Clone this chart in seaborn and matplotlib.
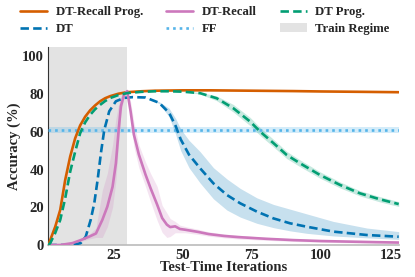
import numpy as np
import pandas as pd
import matplotlib
matplotlib.use("Agg")
import matplotlib.pyplot as plt
import seaborn as sns
from matplotlib.lines import Line2D
from matplotlib.patches import Patch

# ---------------- data ----------------
drp_x = [1.5, 2.2, 4, 5.8, 7.6, 9.4, 11.2, 13, 14.8, 16.6, 18.4, 20.2, 22, 23.8, 26.8, 29.8, 35, 40, 50, 60, 75, 90, 100, 115, 128]
drp_y = [0, 2.7, 9.7, 18.6, 34.5, 46.9, 56.6, 63.4, 68, 71.4, 74, 76.2, 77.8, 78.9, 80.2, 81, 81.5, 81.8, 82, 82, 81.8, 81.6, 81.4, 81.2, 81]

dtp_x = [1.5, 2.2, 4, 5.8, 7.6, 9.4, 11.2, 13, 14.8, 16.6, 18.4, 20.2, 22, 23.8, 26.8, 29.8, 35, 40, 45, 50, 56.3, 62.3, 68.3, 74.4, 78, 82.8, 87.6, 92.4, 99.6, 106.9, 114, 121.3, 128]
dtp_y = [0, 1, 6.4, 13.3, 24.8, 38.9, 49.5, 59.3, 65, 69, 72, 74.3, 76.3, 77.9, 79.5, 80.5, 81.2, 81.5, 81.5, 81.3, 80.5, 77.8, 72.5, 65.4, 60.1, 54, 47.7, 43.3, 37.1, 31.8, 27.4, 24.2, 21.7]
dtp_lo = [0, 1, 6.4, 13.3, 24.8, 38.9, 49.5, 59.3, 65, 69, 72, 74.3, 76.3, 77.9, 79.5, 80.5, 81.2, 81.5, 81.5, 81.3, 80, 76.5, 70.5, 63.2, 58, 52, 45.8, 41.5, 35.4, 30.2, 26, 22.8, 20.4]
dtp_hi = [0, 1, 6.4, 13.3, 24.8, 38.9, 49.5, 59.3, 65, 69, 72, 74.3, 76.3, 77.9, 79.5, 80.5, 81.2, 81.5, 81.5, 81.3, 81, 79, 74.5, 67.6, 62.2, 56, 49.6, 45.1, 38.8, 33.4, 28.8, 25.6, 23]

dt_x = [1.5, 10, 13.2, 15, 16.8, 18.1, 19.3, 20.5, 21.7, 23.5, 25.9, 28.9, 32, 36.6, 41.5, 45.1, 47.5, 49.3, 52.3, 56.3, 61.1, 66, 70.8, 76.8, 82.8, 88.8, 94.8, 104.4, 116.5, 128]
dt_y = [0, 0, 1, 4.4, 13.3, 22.2, 34.5, 48.8, 61, 70.9, 76.2, 78, 78.4, 78.2, 75.4, 70.1, 63, 56, 47.9, 40.7, 32.7, 26.5, 22.1, 17.7, 14.1, 11.5, 9.7, 7.1, 5.3, 4.4]
dt_lo = [0, 0, 1, 4.4, 13.3, 22.2, 34.5, 48.8, 61, 70.9, 76.2, 78, 78.4, 78.2, 75, 68, 58.5, 50, 41, 32.9, 24.5, 18.5, 14.8, 11.5, 9.2, 7.5, 6.2, 4.8, 3.8, 3]
dt_hi = [0, 0, 1, 4.4, 13.3, 22.2, 34.5, 48.8, 61, 70.9, 76.2, 78, 78.4, 78.2, 76, 72.5, 67, 61.5, 55.5, 49.5, 41, 35, 30, 25, 21.5, 19, 16.5, 12.5, 9, 7.1]

dr_x = [1.5, 5.8, 10.2, 13.2, 16.2, 18.7, 21, 22.8, 24.7, 25.9, 26.8, 27.7, 28.8, 30, 31.2, 32.4, 34.2, 36.6, 38.4, 40.8, 42.6, 44.3, 45.5, 47.3, 49, 50.9, 55.7, 59.4, 65, 70, 80, 90, 100, 110, 120, 128]
dr_y = [0, 0, 1, 2.6, 4.4, 6.1, 13.3, 20.3, 30.9, 43.3, 59.3, 73.5, 79.5, 81.6, 70.9, 58.5, 47.9, 37.3, 30.2, 21.4, 14.3, 10.8, 9.5, 9.9, 8.5, 8.1, 6.9, 5.8, 4.8, 4.2, 3.3, 2.6, 2.1, 1.8, 1.5, 1.3]
dr_lo = [0, 0, 0.6, 1.8, 3.2, 4, 4, 9.7, 20, 34, 52, 70, 78, 81, 66, 52, 41, 31, 23, 13, 6.7, 4, 4.5, 6.5, 6.5, 6.5, 5.6, 4.7, 3.8, 3.2, 2.5, 1.9, 1.5, 1.2, 1, 0.9]
dr_hi = [0, 0, 1.4, 3.4, 5.6, 9, 29, 38, 53, 67, 74, 79, 81, 82.2, 76, 65, 53, 44, 38, 31, 21, 17, 14, 12.5, 10.5, 9.8, 8.3, 7, 5.8, 5.2, 4.1, 3.3, 2.7, 2.4, 2.1, 1.8]

ff_x = [1.5, 128]
ff_y = [61, 61]
ff_lo = [59.3, 59.3]
ff_hi = [62.8, 62.8]

train_regime = (0, 30)

labels = ["DT-Recall Prog.", "DT-Recall", "DT Prog.", "DT", "FF", "Train Regime"]

# ---------------- style ----------------
sns.set_theme(style="white")
plt.rcParams["font.family"] = ["Liberation Serif", "DejaVu Serif"]
plt.rcParams["font.weight"] = "bold"
plt.rcParams["axes.labelweight"] = "bold"

pal = sns.color_palette("colorblind")
c_drp = pal[3]
c_dr = pal[4]
c_dtp = pal[2]
c_dt = pal[0]
c_ff = pal[9]

fig = plt.figure(figsize=(4.15, 2.77), dpi=100)
ax = fig.add_axes([0.1164, 0.1155, 0.8443, 0.715])

ax.axvspan(*train_regime, color="#e3e3e3", zorder=0, lw=0)

def band(x, lo, hi, c, a=0.25):
    ax.fill_between(x, lo, hi, color=c, alpha=a, lw=0, zorder=1)

band(ff_x, ff_lo, ff_hi, c_ff, 0.25)
band(dt_x, dt_lo, dt_hi, c_dt, 0.22)
band(dtp_x, dtp_lo, dtp_hi, c_dtp, 0.22)
band(dr_x, dr_lo, dr_hi, c_dr, 0.2)

lw = 1.9
dash = (0, (3.2, 1.6))
dots = (0, (1, 1.5))
sns.lineplot(x=ff_x, y=ff_y, ax=ax, color=c_ff, lw=lw, linestyle=dots, zorder=3)
sns.lineplot(x=dt_x, y=dt_y, ax=ax, color=c_dt, lw=lw, linestyle=dash, zorder=3)
sns.lineplot(x=dr_x, y=dr_y, ax=ax, color=c_dr, lw=lw, zorder=4)
sns.lineplot(x=drp_x, y=drp_y, ax=ax, color=c_drp, lw=lw, zorder=3)
sns.lineplot(x=dtp_x, y=dtp_y, ax=ax, color=c_dtp, lw=lw, linestyle=dash, zorder=4)

ax.set_xlim(1.5, 128)
ax.set_ylim(0, 105)
ax.set_xticks([25, 50, 75, 100, 125])
ax.set_yticks([0, 20, 40, 60, 80, 100])
ax.tick_params(axis="both", labelsize=10.5, length=2, pad=1)
for t in ax.get_xticklabels() + ax.get_yticklabels():
    t.set_fontweight("bold")
ax.set_xlabel("Test-Time Iterations", fontsize=10.5, fontweight="bold", labelpad=-1)
ax.set_ylabel("Accuracy (%)", fontsize=10.5, fontweight="bold", labelpad=1)

for s in ["top", "right"]:
    ax.spines[s].set_visible(False)
ax.spines["left"].set_color("#333333")
ax.spines["bottom"].set_color("#bbbbbb")
ax.spines["left"].set_linewidth(0.8)
ax.spines["bottom"].set_linewidth(1.2)

handles = [
    Line2D([], [], color=c_drp, lw=lw),
    Line2D([], [], color=c_dt, lw=lw, linestyle=dash),
    Line2D([], [], color=c_dr, lw=lw),
    Line2D([], [], color=c_ff, lw=lw, linestyle=dots),
    Line2D([], [], color=c_dtp, lw=lw, linestyle=dash),
    Patch(facecolor="#e3e3e3", edgecolor="none"),
]
leg_labels = [labels[0], labels[3], labels[1], labels[4], labels[2], labels[5]]
fig.legend(handles, leg_labels, ncol=3, loc="upper left", bbox_to_anchor=(20 / 415, 1 - 6 / 277),
           frameon=False, prop={"weight": "bold", "size": 9.2}, handlelength=2.1,
           columnspacing=1.8, labelspacing=0.4, handletextpad=0.7, borderpad=0, borderaxespad=0)

fig.savefig("out.png", dpi=100)
